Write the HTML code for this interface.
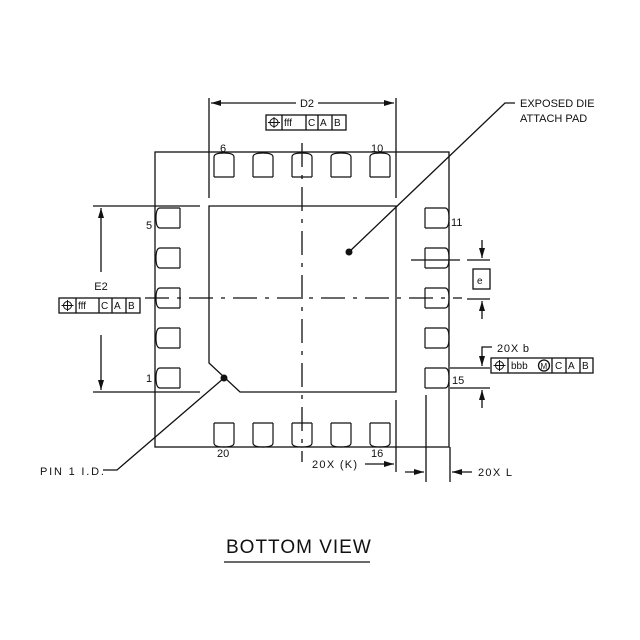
<!DOCTYPE html>
<html><head><style>
body{margin:0;background:#fff}
svg{display:block}
text{font-family:"Liberation Sans",sans-serif;fill:#111}
</style></head><body>
<svg width="640" height="640" viewBox="0 0 640 640" xmlns="http://www.w3.org/2000/svg">
<defs>
<marker id="a" viewBox="0 0 10 6" refX="10" refY="3" markerWidth="10" markerHeight="6" orient="auto" markerUnits="userSpaceOnUse"><path d="M0,0L10,3L0,6z" fill="#111"/></marker>
<g id="pt"><path d="M-10,24V4Q-10,0 0,0Q10,0 10,4V24" fill="none" stroke="#111" stroke-width="1.2"/><path d="M-10,24H10" stroke="#111" stroke-width="1.2"/></g>
</defs>
<g stroke="#111" stroke-width="1.3" fill="none">
<rect x="155" y="152" width="294" height="295"/>
<path d="M209,206H396V392H240L209,363Z"/>
<g stroke-dasharray="24,8,4,8"><line x1="302" y1="143" x2="302" y2="462"/><line x1="145" y1="298" x2="462" y2="298"/></g>
<line x1="209" y1="98" x2="209" y2="198"/><line x1="396" y1="98" x2="396" y2="198"/>
<line x1="296" y1="103" x2="211" y2="103" marker-end="url(#a)"/><line x1="318" y1="103" x2="394" y2="103" marker-end="url(#a)"/>
<line x1="93" y1="206" x2="200" y2="206"/><line x1="93" y1="392" x2="200" y2="392"/>
<line x1="101" y1="272" x2="101" y2="208" marker-end="url(#a)"/><line x1="101" y1="335" x2="101" y2="390" marker-end="url(#a)"/>
<line x1="411" y1="260" x2="460" y2="260"/><line x1="467" y1="260" x2="490" y2="260"/>
<line x1="467" y1="299" x2="490" y2="299"/>
<line x1="482" y1="240" x2="482" y2="258" marker-end="url(#a)"/><line x1="482" y1="319" x2="482" y2="301" marker-end="url(#a)"/>
<rect x="473" y="269" width="17" height="20"/>
<line x1="450" y1="368" x2="490" y2="368"/><line x1="450" y1="388" x2="490" y2="388"/>
<polyline points="492,347 482,347 482,366" marker-end="url(#a)"/><line x1="482" y1="408" x2="482" y2="390" marker-end="url(#a)"/>
<line x1="426" y1="395" x2="426" y2="482"/><line x1="450" y1="447" x2="450" y2="482"/>
<line x1="405" y1="472" x2="424" y2="472" marker-end="url(#a)"/><line x1="472" y1="472" x2="452" y2="472" marker-end="url(#a)"/>
<line x1="396" y1="400" x2="396" y2="472"/>
<line x1="365" y1="464" x2="394" y2="464" marker-end="url(#a)"/>
<polyline points="515,103 505,103 349,252"/>
<polyline points="103,470 117,470 224,378"/>
<line x1="224" y1="562" x2="370" y2="562"/>
<rect x="266" y="115" width="80" height="15"/><path d="M282,115V130M306,115V130M318,115V130M332,115V130"/>
<rect x="59" y="298" width="81" height="15"/><path d="M76,298V313M99,298V313M112,298V313M126,298V313"/>
<rect x="491" y="358" width="102" height="15"/><path d="M508,358V373M552,358V373M566,358V373M580,358V373"/>
<circle cx="544" cy="365.5" r="5.5"/>
<g stroke-width="1"><circle cx="274" cy="122.5" r="4"/><path d="M268,122.5H280M274,117V128"/>
<circle cx="67.5" cy="305.5" r="4"/><path d="M61.5,305.5H73.5M67.5,300V311"/>
<circle cx="499.5" cy="365.5" r="4"/><path d="M493.5,365.5H505.5M499.5,360V371"/></g>
</g>
<circle cx="349" cy="252" r="3.5" fill="#111"/><circle cx="224" cy="378" r="3.5" fill="#111"/>
<g><use href="#pt" transform="translate(224,153)"/><use href="#pt" transform="translate(263,153)"/><use href="#pt" transform="translate(302,153)"/><use href="#pt" transform="translate(341,153)"/><use href="#pt" transform="translate(380,153)"/>
<use href="#pt" transform="translate(224,447) scale(1,-1)"/><use href="#pt" transform="translate(263,447) scale(1,-1)"/><use href="#pt" transform="translate(302,447) scale(1,-1)"/><use href="#pt" transform="translate(341,447) scale(1,-1)"/><use href="#pt" transform="translate(380,447) scale(1,-1)"/>
<use href="#pt" transform="translate(156,218) rotate(90) scale(1,-1)"/><use href="#pt" transform="translate(156,258) rotate(90) scale(1,-1)"/><use href="#pt" transform="translate(156,298) rotate(90) scale(1,-1)"/><use href="#pt" transform="translate(156,338) rotate(90) scale(1,-1)"/><use href="#pt" transform="translate(156,378) rotate(90) scale(1,-1)"/>
<use href="#pt" transform="translate(449,218) rotate(-90) scale(1,-1)"/><use href="#pt" transform="translate(449,258) rotate(-90) scale(1,-1)"/><use href="#pt" transform="translate(449,298) rotate(-90) scale(1,-1)"/><use href="#pt" transform="translate(449,338) rotate(-90) scale(1,-1)"/><use href="#pt" transform="translate(449,378) rotate(-90) scale(1,-1)"/></g>
<g font-size="11">
<text x="307" y="107" text-anchor="middle">D2</text>
<text x="101" y="290" text-anchor="middle">E2</text>
<text x="220" y="152">6</text><text x="371" y="152">10</text>
<text x="146" y="229">5</text><text x="146" y="382">1</text>
<text x="451" y="226">11</text><text x="452" y="384">15</text>
<text x="217" y="457">20</text><text x="371" y="457">16</text>
<text x="520" y="107">EXPOSED DIE</text><text x="520" y="122">ATTACH PAD</text>
<text x="40" y="475" letter-spacing="1.8">PIN 1 I.D.</text>
<text x="312" y="468" letter-spacing="1.3">20X (K)</text>
<text x="478" y="476" letter-spacing="1.3">20X L</text>
<text x="497" y="352" letter-spacing="0.8">20X b</text>
<text x="477" y="284" font-size="10">e</text>
<g font-size="10"><text x="284" y="126">fff</text><text x="308" y="126">C</text><text x="320" y="126">A</text><text x="334" y="126">B</text>
<text x="78" y="309">fff</text><text x="101" y="309">C</text><text x="114" y="309">A</text><text x="128" y="309">B</text>
<text x="511" y="369">bbb</text><text x="540.5" y="369" font-size="8">M</text><text x="555" y="369">C</text><text x="568" y="369">A</text><text x="582" y="369">B</text></g>
</g>
<text x="226" y="553" font-size="19" letter-spacing="1">BOTTOM VIEW</text>
</svg>
</body></html>
